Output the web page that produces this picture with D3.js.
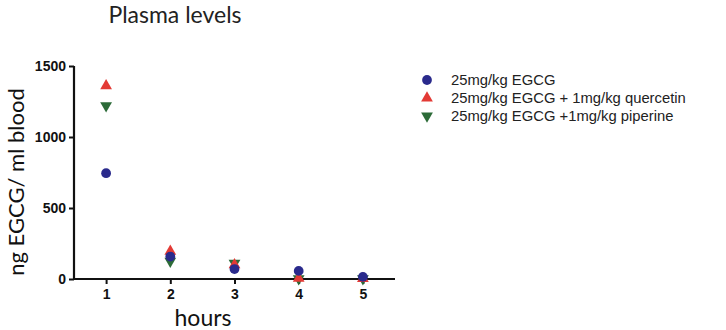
<!DOCTYPE html>
<html><head><meta charset="utf-8">
<script src="https://cdn.jsdelivr.net/npm/d3@7"></script>
<style>body{margin:0;background:#fff}svg{display:block}</style>
</head><body>
<script>
const hours = [1, 2, 3, 4, 5];
const seriesNames = ["25mg/kg EGCG", "25mg/kg EGCG + 1mg/kg quercetin", "25mg/kg EGCG +1mg/kg piperine"];
const egcg = [745, 158, 70, 57, 15];
const quercetin = [1360, 195, 100, 5, 3];
const piperine = [1220, 125, 112, 2, 2];
const yTicks = [0, 500, 1000, 1500];
const colors = ["#2a2a8c", "#e33a35", "#2c6b38"];
const symbols = ["circle", "up", "down"];

const W = 726, H = 330;
const svg = d3.select("body").append("svg").attr("width", W).attr("height", H);
const x = d3.scaleLinear().domain([0.5, 5.5]).range([74, 395]);
const y = d3.scaleLinear().domain([0, 1500]).range([279, 66]);

svg.append("text").attr("x", 175).attr("y", 23).attr("text-anchor", "middle")
  .attr("font-family", "Lato, 'Open Sans', sans-serif").attr("font-size", 23).attr("fill", "#222")
  .text("Plasma levels");

const xa = svg.append("g").attr("transform", "translate(0,279)")
  .call(d3.axisBottom(x).tickValues(hours).tickSize(5).tickPadding(5).tickFormat(d3.format("d")));
const ya = svg.append("g").attr("transform", "translate(74,0)")
  .call(d3.axisLeft(y).tickValues(yTicks).tickSize(5).tickPadding(3).tickFormat(d3.format("d")));
[xa, ya].forEach(a => {
  a.select(".domain").attr("stroke", "#111").attr("stroke-width", 2.2);
  a.selectAll(".tick line").attr("stroke", "#111").attr("stroke-width", 2);
  a.selectAll("text").attr("font-family", "'Liberation Sans', Arial, sans-serif")
    .attr("font-weight", "bold").attr("font-size", 14).attr("fill", "#111");
});
xa.select(".domain").attr("d", "M74,0H395");
ya.select(".domain").attr("d", "M0,66V279");

svg.append("text").attr("transform", "translate(24,182) rotate(-90)").attr("text-anchor", "middle")
  .attr("font-family", "Lato, 'Open Sans', sans-serif").attr("font-size", 22).attr("fill", "#111")
  .text("ng EGCG/ ml blood");
svg.append("text").attr("x", 203).attr("y", 326).attr("text-anchor", "middle")
  .attr("font-family", "Lato, 'Open Sans', sans-serif").attr("font-size", 23).attr("fill", "#111")
  .text("hours");

function sym(k) {
  if (k === "circle") return d3.symbol(d3.symbolCircle, 75)();
  return d3.symbol(d3.symbolTriangle, 60)();
}
function drawMark(g, k, color) {
  g.append("path").attr("d", sym(k)).attr("fill", color)
    .attr("transform", k === "down" ? "rotate(180)" : null);
}

const allSeries = [egcg, quercetin, piperine];
[2, 1, 0].forEach(si => {
  allSeries[si].forEach((v, i) => {
    const g = svg.append("g").attr("transform", `translate(${x(hours[i])},${y(v)})`);
    drawMark(g, symbols[si], colors[si]);
  });
});

seriesNames.forEach((n, i) => {
  const yy = 80 + i * 18;
  const g = svg.append("g").attr("transform", `translate(427,${yy})`);
  drawMark(g, symbols[i], colors[i]);
  svg.append("text").attr("x", 451).attr("y", yy + 5)
    .attr("font-family", "'Liberation Sans', Arial, sans-serif").attr("font-size", 14.8).attr("fill", "#222")
    .text(n);
});
</script>
</body></html>
